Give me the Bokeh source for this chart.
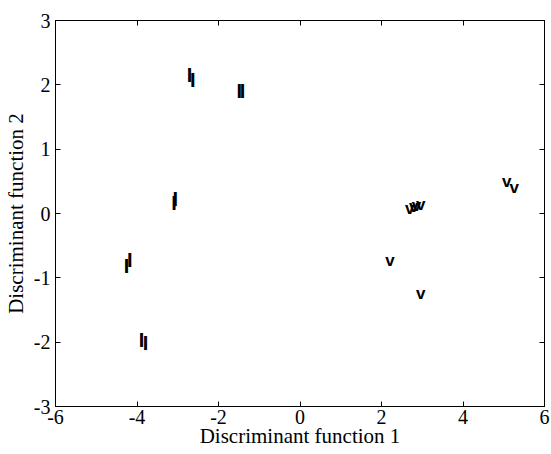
from bokeh.plotting import figure
from bokeh.models import ColumnDataSource, LinearAxis, FixedTicker, Range1d
from bokeh.core.properties import value
from bokeh.embed import file_html
from bokeh.resources import INLINE

# Group 1 (marker "I")
g1_x = [-2.71, -2.63, -1.49, -1.41, -3.06, -3.09, -4.26, -4.18, -3.89, -3.79]
g1_y = [2.15, 2.08, 1.90, 1.90, 0.22, 0.17, -0.82, -0.73, -1.96, -2.01]
# Group 2 (marker "v")
g2_x = [2.69, 2.79, 2.86, 2.96, 5.07, 5.26, 2.21, 2.96]
g2_y = [0.08, 0.11, 0.12, 0.14, 0.49, 0.41, -0.73, -1.24]

x_ticks = [-6, -4, -2, 0, 2, 4, 6]
y_ticks = [-3, -2, -1, 0, 1, 2, 3]
x_tick_labels = ["-6", "-4", "-2", "0", "2", "4", "6"]
y_tick_labels = ["-3", "-2", "-1", "0", "1", "2", "3"]
x_label = "Discriminant function 1"
y_label = "Discriminant function 2"

FONT = "Liberation Serif"

p = figure(width=551, height=454, output_backend="svg", toolbar_location=None,
           x_range=Range1d(-6, 6), y_range=Range1d(-3, 3),
           min_border_left=55, min_border_right=7, min_border_top=20, min_border_bottom=48)
p.grid.visible = False
p.outline_line_color = "black"
p.outline_line_width = 1
p.background_fill_color = "white"
p.border_fill_color = "white"

for ax in (p.xaxis[0], p.yaxis[0]):
    ax.major_tick_in = 5
    ax.major_tick_out = 0
    ax.minor_tick_line_color = None
    ax.axis_line_color = "black"
    ax.major_label_text_font = FONT
    ax.major_label_text_font_size = "20px"
    ax.major_label_text_color = "black"
    ax.axis_label_text_font = FONT
    ax.axis_label_text_font_size = "21px"
    ax.axis_label_text_font_style = "normal"
    ax.axis_label_text_color = "black"
p.xaxis[0].ticker = FixedTicker(ticks=x_ticks)
p.yaxis[0].ticker = FixedTicker(ticks=y_ticks)
p.xaxis[0].major_label_overrides = {t: s for t, s in zip(x_ticks, x_tick_labels)}
p.yaxis[0].major_label_overrides = {t: s for t, s in zip(y_ticks, y_tick_labels)}
p.xaxis[0].axis_label = x_label
p.yaxis[0].axis_label = y_label
p.xaxis[0].axis_label_standoff = -3
p.yaxis[0].axis_label_standoff = 3
p.xaxis[0].major_label_standoff = 3
p.yaxis[0].major_label_standoff = 5

top = LinearAxis(ticker=FixedTicker(ticks=x_ticks), major_label_text_font_size="0px",
                 major_label_standoff=0, major_tick_in=5, major_tick_out=0,
                 minor_tick_line_color=None, major_label_text_color=None)
right = LinearAxis(ticker=FixedTicker(ticks=y_ticks), major_label_text_font_size="0px",
                   major_label_standoff=0, major_tick_in=5, major_tick_out=0,
                   minor_tick_line_color=None, major_label_text_color=None)
p.add_layout(top, "above")
p.add_layout(right, "right")

s1 = ColumnDataSource(dict(x=g1_x, y=g1_y, t=["I"] * len(g1_x)))
s2 = ColumnDataSource(dict(x=g2_x, y=g2_y, t=["v"] * len(g2_x)))
p.text(x="x", y="y", text="t", source=s1, text_font=value("Liberation Sans"),
       text_font_size="20px", text_font_style="bold", text_align="center",
       text_baseline="middle", text_color="black")
p.text(x="x", y="y", text="t", source=s2, text_font=value("Liberation Sans"),
       text_font_size="17px", text_font_style="bold", text_align="center",
       text_baseline="middle", text_color="black")

open("out.html", "w").write(file_html(p, INLINE))
